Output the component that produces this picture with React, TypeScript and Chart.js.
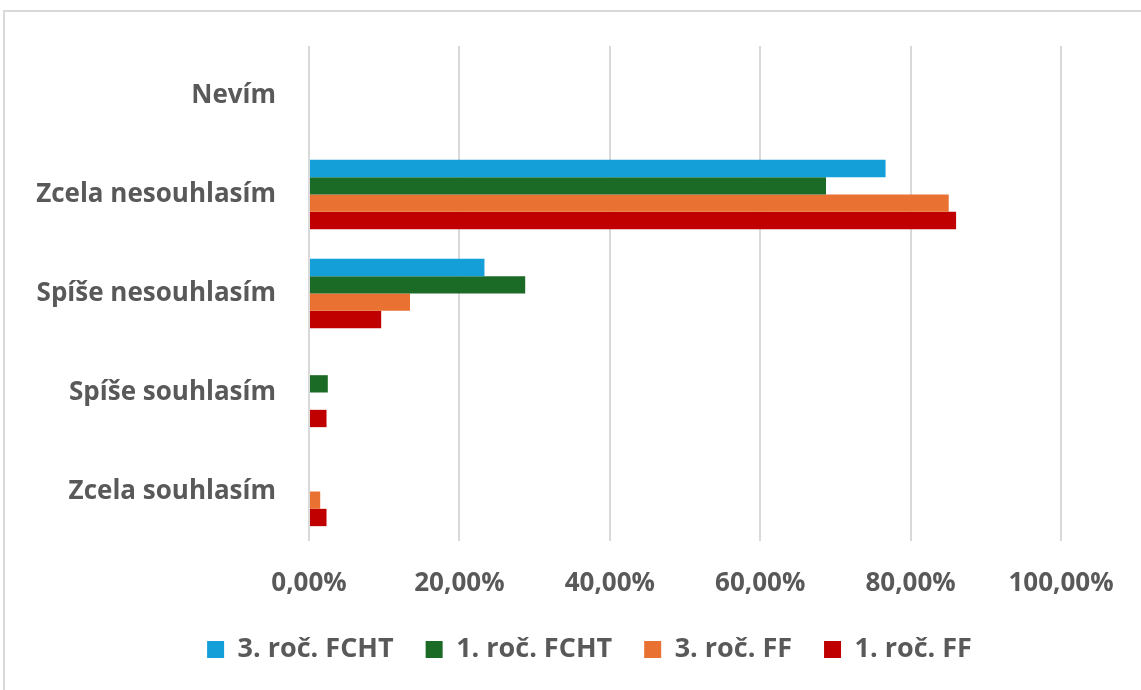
import React, { useEffect, useRef } from "react";
import { Chart, registerables } from "chart.js";

Chart.register(...registerables);

const categories = ["Nevím", "Zcela nesouhlasím", "Spíše nesouhlasím", "Spíše souhlasím", "Zcela souhlasím"];
const seriesNames = ["3. roč. FCHT", "1. roč. FCHT", "3. roč. FF", "1. roč. FF"];
const fcht3 = [0, 76.67, 23.33, 0, 0];
const fcht1 = [0, 68.75, 28.75, 2.5, 0];
const ff3 = [0, 85.07, 13.43, 0, 1.49];
const ff1 = [0, 86.05, 9.6, 2.33, 2.33];
const seriesColors = ["#149fd8", "#1b6b26", "#e97132", "#c00000"];
const xTicks = [0, 20, 40, 60, 80, 100];

const FONT = "'Open Sans', 'DejaVu Sans', sans-serif";
const TEXT = "#595959";

const legendFitPlugin = {
  id: "legendFit",
  beforeLayout(chart: any) {
    const lg = chart.legend;
    if (lg && !lg._patched) {
      const orig = lg.fit;
      lg.fit = function () {
        orig.call(this);
        this.height = 86;
      };
      lg._patched = true;
    }
  },
  afterLayout(chart: any) {
    const lg = chart.legend;
    if (lg) {
      lg.left = 58;
      lg.right = 1121;
    }
  },
};

export default function App() {
  const ref = useRef<HTMLCanvasElement | null>(null);

  useEffect(() => {
    if (!ref.current) return;
    const values = [fcht3, fcht1, ff3, ff1];
    const chart = new Chart(ref.current, {
      type: "bar",
      data: {
        labels: categories,
        datasets: seriesNames.map((name, i) => ({
          label: name,
          data: values[i],
          backgroundColor: seriesColors[i],
          borderWidth: 0,
          categoryPercentage: 0.7,
          barPercentage: 1.0,
        })),
      },
      options: {
        indexAxis: "y",
        animation: false,
        responsive: false,
        maintainAspectRatio: false,
        layout: { padding: { left: 0, top: 46, right: 80, bottom: 0 } },
        scales: {
          x: {
            min: 0,
            max: 100,
            afterBuildTicks: (s: any) => {
              s.ticks = xTicks.map((v) => ({ value: v }));
            },
            afterFit: (s: any) => {
              s.height = 63;
            },
            grid: { color: "#d9d9d9", lineWidth: 2, drawTicks: false },
            border: { display: false },
            ticks: {
              padding: 27,
              color: TEXT,
              font: { family: FONT, size: 26, weight: "bold" },
              callback: (v: any) => Number(v).toFixed(2).replace(".", ",") + "%",
            },
          },
          y: {
            afterFit: (s: any) => {
              s.width = 309;
            },
            grid: { display: false },
            border: { display: false },
            ticks: {
              padding: 25,
              color: TEXT,
              font: { family: FONT, size: 26, weight: "bold" },
            },
          },
        },
        plugins: {
          legend: {
            position: "bottom",
            labels: {
              padding: 32,
              boxWidth: 17,
              boxHeight: 17,
              color: TEXT,
              font: { family: FONT, size: 27, weight: "bold" },
            },
          },
          tooltip: { enabled: false },
        },
      },
      plugins: [legendFitPlugin],
    } as any);
    return () => chart.destroy();
  }, []);

  return (
    <div style={{ position: "absolute", left: 0, top: 0, width: 1141, height: 690, background: "#fff", overflow: "hidden" }}>
      <div
        style={{
          position: "absolute",
          left: 3,
          top: 10,
          width: 1200,
          height: 800,
          borderLeft: "2px solid #d9d9d9",
          borderTop: "2px solid #d9d9d9",
        }}
      />
      <canvas ref={ref} width={1141} height={690} style={{ position: "absolute", left: 0, top: 0 }} />
    </div>
  );
}
